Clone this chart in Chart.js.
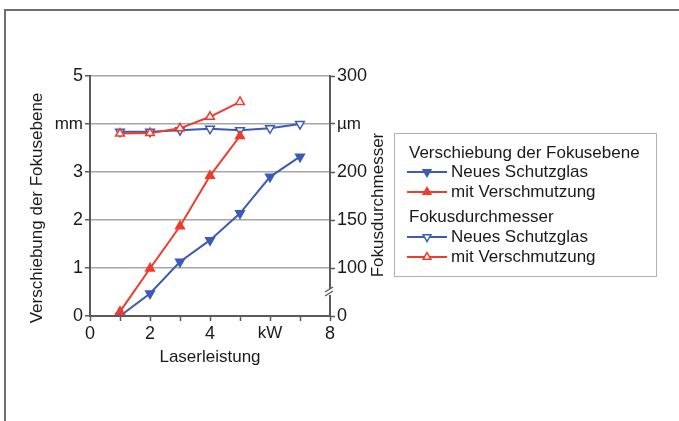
<!DOCTYPE html>
<html>
<head>
<meta charset="utf-8">
<script src="https://cdn.jsdelivr.net/npm/chart.js@4.4.0/dist/chart.umd.min.js"></script>
<style>
  html, body { margin: 0; padding: 0; background: #fff; }
</style>
</head>
<body>
<canvas id="chart" width="679" height="421"></canvas>
<script>
// Laserleistung (kW) vs. Fokusverschiebung / Fokusdurchmesser
const POWER_KW    = [1, 2, 3, 4, 5, 6, 7];
const SHIFT_NEW   = [0, 0.47, 1.13, 1.58, 2.14, 2.9, 3.32];      // mm
const SHIFT_DIRTY = [0.09, 0.99, 1.87, 2.92, 3.75];              // mm
const DIAM_NEW    = [242, 242, 243.5, 245, 243.5, 245.5, 250];   // µm
const DIAM_DIRTY  = [240, 240.5, 245.5, 257.5, 273];             // µm

const X_TICKS  = { 0: '0', 2: '2', 4: '4', 6: 'kW', 8: '8' };
const Y_TICKS  = { 0: '0', 1: '1', 2: '2', 3: '3', 4: 'mm', 5: '5' };
const Y2_TICKS = { 50: '0', 100: '100', 150: '150', 200: '200', 250: 'µm', 300: '300' };

const COLORS = {
    blue:  '#3c5bb6',
    red:   '#ef3b2c',
    text:  '#1a1a1a',
    axis:  '#5a5a5a',
    grid:  '#a6a6a6',
    frame: '#6e6e6e',
};
const FONT = "'Liberation Sans', Arial, sans-serif";

const pts = ys => ys.map((y, i) => ({ x: POWER_KW[i], y }));

function series(label, group, data, color, filled, down, axis) {
    return {
        label, group,
        data: pts(data),
        yAxisID: axis,
        borderColor: color,
        backgroundColor: filled ? color : '#ffffff',
        pointBackgroundColor: filled ? color : '#ffffff',
        pointBorderColor: color,
        pointStyle: 'triangle',
        pointRotation: down ? 180 : 0,
        pointRadius: 5,
        pointBorderWidth: 1.5,
        borderWidth: 2,
        tension: 0,
    };
}

const datasets = [
    series('Neues Schutzglas',  'Verschiebung der Fokusebene', SHIFT_NEW,   COLORS.blue, true,  true,  'y'),
    series('mit Verschmutzung', 'Verschiebung der Fokusebene', SHIFT_DIRTY, COLORS.red,  true,  false, 'y'),
    series('Neues Schutzglas',  'Fokusdurchmesser',            DIAM_NEW,    COLORS.blue, false, true,  'y2'),
    series('mit Verschmutzung', 'Fokusdurchmesser',            DIAM_DIRTY,  COLORS.red,  false, false, 'y2'),
];
// draw order: blue under red
const drawOrder = [2, 0, 3, 1];
drawOrder.forEach((d, i) => { datasets[d].order = 4 - i; });

const decor = {
    id: 'decor',
    beforeDraw(chart) {
        const c = chart.ctx;
        c.save();
        c.strokeStyle = COLORS.frame;
        c.lineWidth = 2;
        c.beginPath();
        c.moveTo(5, chart.height);
        c.lineTo(5, 10);
        c.lineTo(chart.width, 10);
        c.stroke();
        c.restore();
    },
    afterDraw(chart) {
        const c = chart.ctx;
        const area = chart.chartArea;
        const y2 = chart.scales.y2;
        c.save();

        // axis break on the right axis
        const by = y2.getPixelForValue(75);
        const bx = area.right;
        c.fillStyle = '#ffffff';
        c.fillRect(bx - 3, by - 3, 6, 6);
        c.strokeStyle = COLORS.axis;
        c.lineWidth = 1.4;
        [-2, 2].forEach(d => {
            c.beginPath();
            c.moveTo(bx - 5, by + d + 2);
            c.lineTo(bx + 3, by + d - 3);
            c.stroke();
        });

        // axis titles (both read bottom to top)
        c.fillStyle = COLORS.text;
        c.textAlign = 'center';
        c.textBaseline = 'middle';
        c.font = '17px ' + FONT;
        [[37, 208, 'Verschiebung der Fokusebene'], [378, 205, 'Fokusdurchmesser']].forEach(([x, y, t]) => {
            c.save();
            c.translate(x, y);
            c.rotate(-Math.PI / 2);
            c.fillText(t, 0, 0);
            c.restore();
        });

        // legend
        const lx = 394, ly = 133;
        c.strokeStyle = '#b0b0b0';
        c.lineWidth = 1;
        c.strokeRect(lx + 0.5, ly + 0.5, 262, 143);
        c.textAlign = 'left';
        c.font = '17px ' + FONT;
        const rows = [20, 39, 59, 84, 104, 124];
        let row = 0, lastGroup = null;
        datasets.forEach(ds => {
            if (ds.group !== lastGroup) {
                c.fillStyle = COLORS.text;
                c.fillText(ds.group, lx + 15, ly + rows[row++]);
                lastGroup = ds.group;
            }
            const y = ly + rows[row++];
            c.strokeStyle = ds.borderColor;
            c.lineWidth = 2;
            c.beginPath();
            c.moveTo(lx + 13, y);
            c.lineTo(lx + 53, y);
            c.stroke();
            c.fillStyle = ds.pointBackgroundColor;
            c.lineWidth = 1.5;
            Chart.helpers.drawPoint(c, {
                pointStyle: 'triangle',
                rotation: ds.pointRotation,
                radius: 4.5,
                borderWidth: 1.5,
            }, lx + 33, y);
            c.fillStyle = COLORS.text;
            c.fillText(ds.label, lx + 57, y);
        });
        c.restore();
    },
};

new Chart(document.getElementById('chart'), {
    type: 'line',
    data: { datasets },
    plugins: [decor],
    options: {
        responsive: false,
        animation: false,
        layout: { padding: { left: 0, top: 76, right: 289, bottom: 45 } },
        plugins: { legend: { display: false }, tooltip: { enabled: false } },
        scales: {
            x: {
                type: 'linear',
                min: 0, max: 8,
                afterFit: s => { s.height = 60; },
                ticks: {
                    stepSize: 1,
                    autoSkip: false,
                    maxRotation: 0,
                    padding: 2,
                    color: COLORS.text,
                    font: ctx => ({ family: FONT, size: ctx.tick && ctx.tick.value === 6 ? 17 : 18 }),
                    callback: v => X_TICKS[v] ?? '',
                },
                grid: { drawOnChartArea: false, tickLength: 5, tickColor: COLORS.axis, tickWidth: 1.5 },
                border: { color: COLORS.axis, width: 2 },
                title: {
                    display: true,
                    text: 'Laserleistung',
                    color: COLORS.text,
                    font: { family: FONT, size: 17 },
                    padding: { top: 0, bottom: 8 },
                },
            },
            y: {
                position: 'left',
                min: 0, max: 5,
                afterFit: s => { s.width = 90; },
                ticks: {
                    stepSize: 1,
                    padding: 2,
                    color: COLORS.text,
                    font: ctx => ({ family: FONT, size: ctx.tick && ctx.tick.value === 4 ? 17 : 18 }),
                    callback: v => Y_TICKS[v] ?? '',
                },
                grid: { color: COLORS.grid, lineWidth: 1.5, tickLength: 5, tickColor: COLORS.axis },
                border: { color: COLORS.axis, width: 2 },
            },
            y2: {
                position: 'right',
                min: 50, max: 300,
                afterFit: s => { s.width = 60; },
                ticks: {
                    stepSize: 50,
                    padding: 2,
                    color: COLORS.text,
                    font: ctx => ({ family: FONT, size: ctx.tick && ctx.tick.value === 250 ? 17 : 18 }),
                    callback: v => Y2_TICKS[v] ?? '',
                },
                grid: { drawOnChartArea: false, tickLength: 5, tickColor: COLORS.axis, tickWidth: 1.5 },
                border: { color: COLORS.axis, width: 2 },
            },
        },
    },
});
</script>
</body>
</html>
